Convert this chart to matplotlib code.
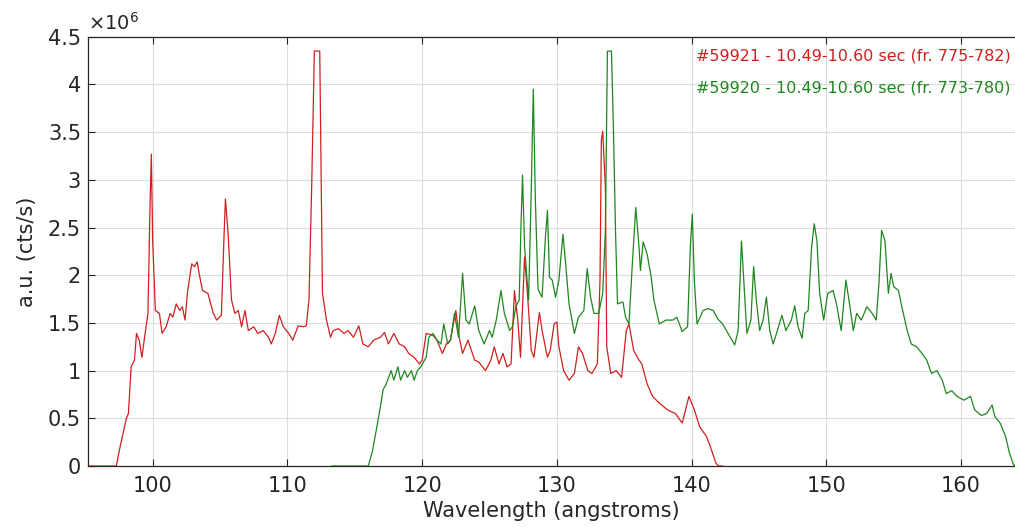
import matplotlib
matplotlib.use("Agg")
import matplotlib.pyplot as plt
import numpy as np

# Red series: #59921 (wavelength in angstroms, intensity in units of 1e6 cts/s)
red_x = [95.2, 97.0, 97.3, 97.55, 97.8, 98.05, 98.2, 98.4, 98.65, 98.8, 99.0, 99.2, 99.4,
         99.65, 99.8, 99.9, 100.0, 100.2, 100.5, 100.7, 101.0, 101.3, 101.5, 101.75, 102.0,
         102.2, 102.4, 102.6, 102.9, 103.1, 103.3, 103.5, 103.7, 104.1, 104.5, 104.75, 105.1,
         105.3, 105.4, 105.6, 105.85, 106.1, 106.35, 106.6, 106.85, 107.1, 107.5, 107.8, 108.2,
         108.6, 108.8, 109.1, 109.4, 109.7, 110.1, 110.4, 110.8, 111.2, 111.4, 111.6, 111.8,
         112.0, 112.4, 112.5, 112.6, 112.9, 113.2, 113.4, 113.8, 114.2, 114.5, 114.9, 115.3,
         115.6, 116.0, 116.4, 116.9, 117.2, 117.5, 117.9, 118.3, 118.7, 119.0, 119.4, 119.8,
         120.0, 120.3, 120.8, 121.1, 121.5, 121.8, 122.1, 122.5, 122.75, 123.0, 123.4, 123.9,
         124.2, 124.7, 125.1, 125.35, 125.7, 126.0, 126.3, 126.6, 126.85, 127.1, 127.3, 127.6,
         127.8, 128.1, 128.3, 128.7, 128.9, 129.3, 129.5, 129.8, 130.0, 130.15, 130.5, 130.9,
         131.3, 131.6, 131.9, 132.3, 132.6, 133.0, 133.2, 133.3, 133.4, 133.6, 133.7, 134.0,
         134.4, 134.8, 135.15, 135.35, 135.7, 136.1, 136.3, 136.7, 137.1, 137.6, 138.2, 138.8,
         139.3, 139.8, 140.2, 140.6, 141.1, 141.4, 141.8, 142.0, 142.3]
red_y = [0.0, 0.0, 0.0, 0.18, 0.34, 0.5, 0.55, 1.04, 1.11, 1.39, 1.32, 1.14, 1.35,
         1.6, 2.71, 3.27, 2.36, 1.63, 1.6, 1.39, 1.46, 1.6, 1.56, 1.7, 1.63,
         1.67, 1.53, 1.84, 2.12, 2.09, 2.14, 1.98, 1.84, 1.81, 1.6, 1.53, 1.58,
         2.43, 2.8, 2.43, 1.74, 1.6, 1.63, 1.46, 1.63, 1.42, 1.46, 1.39, 1.42,
         1.35, 1.28, 1.39, 1.58, 1.46, 1.39, 1.32, 1.47, 1.46, 1.47, 1.74, 2.92,
         4.35, 4.35, 3.13, 1.81, 1.53, 1.35, 1.42, 1.44, 1.39, 1.42, 1.35, 1.47,
         1.28, 1.25, 1.32, 1.35, 1.40, 1.28, 1.39, 1.28, 1.25, 1.18, 1.14, 1.07,
         1.11, 1.39, 1.37, 1.32, 1.18, 1.28, 1.32, 1.63, 1.35, 1.18, 1.32, 1.11,
         1.09, 1.0, 1.11, 1.25, 1.07, 1.18, 1.04, 1.07, 1.84, 1.53, 1.14, 2.19,
         1.84, 1.21, 1.14, 1.61, 1.42, 1.14, 1.21, 1.49, 1.51, 1.25, 1.0, 0.9,
         0.97, 1.25, 1.18, 1.0, 0.97, 1.07, 1.95, 3.41, 3.51, 2.92, 1.25, 0.97,
         1.0, 0.93, 1.42, 1.49, 1.21, 1.11, 1.07, 0.86, 0.73, 0.66, 0.59, 0.55,
         0.45, 0.73, 0.59, 0.41, 0.31, 0.2, 0.03, 0.0, 0.0]

# Green series: #59920
green_x = [113.3, 116.0, 116.3, 116.6, 116.9, 117.1, 117.3, 117.7, 117.9, 118.2, 118.4, 118.7,
           118.9, 119.2, 119.4, 119.65, 119.9, 120.3, 120.5, 120.8, 121.1, 121.4, 121.6, 121.9,
           122.1, 122.4, 122.7, 123.0, 123.25, 123.5, 123.9, 124.2, 124.6, 125.0, 125.2, 125.5,
           125.85, 126.1, 126.5, 126.7, 126.95, 127.2, 127.35, 127.45, 127.6, 127.9, 128.1, 128.25,
           128.4, 128.6, 128.9, 129.15, 129.3, 129.45, 129.65, 129.9, 130.15, 130.45, 130.65, 130.9,
           131.3, 131.6, 132.0, 132.25, 132.5, 132.75, 133.1, 133.4, 133.6, 133.75, 134.05, 134.2,
           134.35, 134.5, 134.9, 135.1, 135.35, 135.6, 135.85, 136.1, 136.2, 136.4, 136.7, 137.0,
           137.2, 137.6, 138.1, 138.6, 138.9, 139.3, 139.7, 139.9, 140.05, 140.2, 140.4, 140.85,
           141.2, 141.6, 141.95, 142.3, 142.7, 143.2, 143.45, 143.7, 143.9, 144.1, 144.4, 144.6,
           144.8, 145.05, 145.3, 145.55, 145.8, 146.05, 146.3, 146.7, 147.0, 147.4, 147.65, 147.9,
           148.2, 148.4, 148.65, 148.9, 149.1, 149.3, 149.5, 149.8, 150.1, 150.5, 150.75, 151.1,
           151.45, 151.75, 152.0, 152.25, 152.6, 153.0, 153.4, 153.7, 153.9, 154.1, 154.35, 154.6,
           154.8, 155.0, 155.35, 155.6, 156.0, 156.3, 156.7, 157.1, 157.45, 157.8, 158.2, 158.6,
           158.9, 159.3, 159.7, 160.2, 160.7, 161.0, 161.5, 161.9, 162.3, 162.5, 162.9, 163.3,
           163.6, 163.9, 164.2]
green_y = [0.0, 0.0, 0.15, 0.38, 0.62, 0.8, 0.85, 1.0, 0.9, 1.04, 0.9, 1.0,
           0.93, 1.0, 0.9, 1.0, 1.04, 1.14, 1.35, 1.39, 1.32, 1.28, 1.49, 1.28,
           1.32, 1.6, 1.35, 2.02, 1.53, 1.49, 1.68, 1.42, 1.28, 1.42, 1.35, 1.53,
           1.84, 1.6, 1.42, 1.46, 1.67, 1.74, 2.6, 3.05, 2.3, 1.74, 2.9, 3.95,
           2.8, 1.85, 1.77, 2.4, 2.68, 1.98, 1.95, 1.77, 1.95, 2.43, 2.12, 1.7,
           1.39, 1.56, 1.63, 2.07, 1.77, 1.6, 1.6, 1.81, 2.47, 4.35, 4.35, 3.51,
           2.47, 1.7, 1.72, 1.56, 1.49, 2.12, 2.71, 2.29, 2.05, 2.35, 2.22, 1.98,
           1.74, 1.49, 1.53, 1.53, 1.56, 1.41, 1.46, 2.29, 2.64, 1.95, 1.49, 1.63,
           1.65, 1.63, 1.54, 1.49, 1.39, 1.27, 1.42, 2.36, 1.88, 1.39, 1.53, 2.09,
           1.74, 1.42, 1.53, 1.77, 1.42, 1.28, 1.39, 1.58, 1.42, 1.53, 1.68, 1.46,
           1.34, 1.6, 1.63, 2.29, 2.54, 2.36, 1.81, 1.53, 1.81, 1.84, 1.7, 1.42,
           1.95, 1.67, 1.42, 1.6, 1.53, 1.67, 1.6, 1.53, 1.91, 2.47, 2.36, 1.81,
           2.02, 1.88, 1.84, 1.67, 1.42, 1.28, 1.25, 1.18, 1.11, 0.97, 1.0, 0.9,
           0.76, 0.79, 0.73, 0.69, 0.73, 0.59, 0.53, 0.55, 0.64, 0.52, 0.45, 0.31,
           0.13, 0.01, 0.0]

red_label = "#59921 - 10.49-10.60 sec (fr. 775-782)"
green_label = "#59920 - 10.49-10.60 sec (fr. 773-780)"
x_ticks = [100, 110, 120, 130, 140, 150, 160]
y_ticks = [0, 0.5, 1, 1.5, 2, 2.5, 3, 3.5, 4, 4.5]
y_ticklabels = ["0", "0.5", "1", "1.5", "2", "2.5", "3", "3.5", "4", "4.5"]

RED = "#d01f1f"
GREEN = "#1f861f"
AXC = "#262626"

plt.rcParams['font.family'] = ['DejaVu Sans']
fig = plt.figure(figsize=(10.15, 5.27), dpi=100)
ax = fig.add_axes([0.0867, 0.1157, 0.9133, 0.8145])

scale = 1e6
ax.plot(red_x, np.array(red_y) * scale, color=RED, lw=0.9)
ax.plot(green_x, np.array(green_y) * scale, color=GREEN, lw=0.9)

ax.set_xlim(95.2, 164.0)
ax.set_ylim(0, 4.5e6)
ax.set_xticks(x_ticks)
ax.set_yticks([v * scale for v in y_ticks])
ax.set_yticklabels(y_ticklabels)
ax.tick_params(direction='in', length=5, width=0.8, colors=AXC, labelsize=15,
               top=True, right=False, pad=5)
ax.tick_params(axis='x', pad=7)
ax.grid(True, color='#dcdcdc', lw=0.8)
ax.set_axisbelow(True)
for s in ['left', 'bottom', 'top']:
    ax.spines[s].set_color(AXC)
    ax.spines[s].set_linewidth(0.9)
ax.spines['right'].set_visible(False)

ax.set_xlabel("Wavelength (angstroms)", fontsize=15, color=AXC, labelpad=4)
ax.set_ylabel("a.u. (cts/s)", fontsize=15, color=AXC, labelpad=8)

fig.text(0.0867, 0.935, r"$\times10^{6}$", fontsize=14, color=AXC, ha='left', va='bottom')

fig.text(1011 / 1015, 1 - 56 / 527, red_label, color=RED, fontsize=11.5,
         ha='right', va='center')
fig.text(1011 / 1015, 1 - 88 / 527, green_label, color=GREEN, fontsize=11.5,
         ha='right', va='center')

fig.savefig("out.png", dpi=100)
